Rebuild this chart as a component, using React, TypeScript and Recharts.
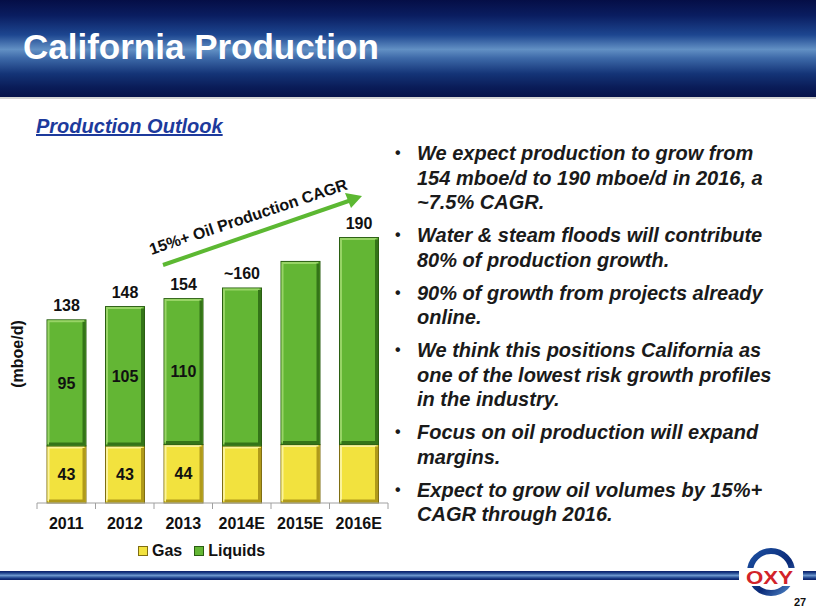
import React from 'react';
import { BarChart, Bar, XAxis, YAxis, LabelList } from 'recharts';

const years = ['2011', '2012', '2013', '2014E', '2015E', '2016E'];
const gas = [43, 43, 44, 43, 44, 44];
const liquids = [95, 105, 110, 119, 138, 156];
const gasLabels = ['43', '43', '44', '', '', ''];
const liquidLabels = ['95', '105', '110', '', '', ''];
const totalLabels = ['138', '148', '154', '~160', '', '190'];

const bullets = [
  'We expect production to grow from 154 mboe/d to 190 mboe/d in 2016, a ~7.5% CAGR.',
  'Water & steam floods will contribute 80% of production growth.',
  '90% of growth from projects already online.',
  'We think this positions California as one of the lowest risk growth profiles in the industry.',
  'Focus on oil production will expand margins.',
  'Expect to grow oil volumes by 15%+ CAGR through 2016.',
];

const data = years.map((year, i) => ({
  year,
  gas: gas[i],
  liquids: liquids[i],
  gasLabel: gasLabels[i],
  liquidLabel: liquidLabels[i],
  totalLabel: totalLabels[i],
}));

const FONT = '"Liberation Sans", Arial, sans-serif';

const CHART_W = 400;
const MARGIN = { top: 31, right: 12, bottom: 7, left: 37 };
const BAND = (CHART_W - MARGIN.left - MARGIN.right) / years.length;

const bevel = (fill: string, light: string, shadow: string, border: string) => (props: any) => {
  const { x, y, width, height } = props;
  if (!height || height <= 0) return <g />;
  return (
    <g>
      <rect x={x} y={y} width={width} height={height} fill={fill} stroke={border} strokeWidth={1} />
      <path
        d={`M${x + 1.5},${y + height - 2} L${x + 1.5},${y + 1.5} L${x + width - 2},${y + 1.5}`}
        stroke={light}
        strokeWidth={2}
        fill="none"
      />
      <path
        d={`M${x + width - 2},${y + 2} L${x + width - 2},${y + height - 2} L${x + 2},${y + height - 2}`}
        stroke={shadow}
        strokeWidth={3}
        fill="none"
      />
    </g>
  );
};

const GasShape = bevel('#f2e23e', '#fbf39a', '#b09a1a', '#7f6e12');
const LiquidShape = bevel('#63b634', '#98d466', '#347418', '#2a5e12');

const YearTick = (props: any) => {
  const { x, y, payload, index } = props;
  const left = x - BAND / 2;
  return (
    <g>
      <line x1={left} y1={y} x2={left} y2={y + 6} stroke="#a0a0a0" />
      {index === years.length - 1 && (
        <line x1={x + BAND / 2} y1={y} x2={x + BAND / 2} y2={y + 6} stroke="#a0a0a0" />
      )}
      <text x={x} y={y + 26} textAnchor="middle" fontFamily={FONT} fontWeight="bold" fontSize={16} fill="#111">
        {payload.value}
      </text>
    </g>
  );
};

const labelStyle = { fontFamily: FONT, fontWeight: 'bold', fontSize: 16, fill: '#111' } as const;

export default function App() {
  return (
    <div style={{ position: 'absolute', left: 0, top: 0, width: 816, height: 612, background: '#fff', overflow: 'hidden', fontFamily: FONT }}>
      {/* header band */}
      <div
        style={{
          position: 'absolute',
          left: 0,
          top: 0,
          width: 816,
          height: 97,
          background:
            'linear-gradient(to bottom, #050e46 0%, #0a1d60 16%, #1d4690 36%, #6290c4 51%, #3d69a8 60%, #143477 76%, #0a1c58 90%, #06124a 100%)',
        }}
      />
      <div style={{ position: 'absolute', left: 0, top: 97, width: 816, height: 2, background: '#d4d4d4' }} />
      <div
        style={{
          position: 'absolute',
          left: 23,
          top: 23,
          color: '#fff',
          fontSize: 35,
          fontWeight: 'bold',
          lineHeight: '48px',
          whiteSpace: 'nowrap',
        }}
      >
        California Production
      </div>

      <div
        style={{
          position: 'absolute',
          left: 36,
          top: 114,
          color: '#1d3a9c',
          fontSize: 20,
          fontWeight: 'bold',
          fontStyle: 'italic',
          textDecoration: 'underline',
          lineHeight: '24px',
          whiteSpace: 'nowrap',
        }}
      >
        Production Outlook
      </div>

      {/* chart */}
      <div style={{ position: 'absolute', left: 0, top: 180 }}>
        <BarChart width={CHART_W} height={360} data={data} margin={MARGIN} barSize={39}>
          <XAxis
            dataKey="year"
            height={30}
            axisLine={{ stroke: '#a0a0a0' }}
            tickLine={false}
            tickSize={0}
            tickMargin={0}
            interval={0}
            tick={<YearTick />}
          />
          <YAxis hide domain={[0, 220]} />
          <Bar dataKey="gas" stackId="a" shape={GasShape} isAnimationActive={false}>
            <LabelList dataKey="gasLabel" position="center" style={labelStyle} />
          </Bar>
          <Bar dataKey="liquids" stackId="a" shape={LiquidShape} isAnimationActive={false}>
            <LabelList dataKey="liquidLabel" position="center" style={labelStyle} />
            <LabelList dataKey="totalLabel" position="top" offset={9} style={labelStyle} />
          </Bar>
        </BarChart>
      </div>

      {/* y-axis title */}
      <div
        style={{
          position: 'absolute',
          left: 18,
          top: 354,
          transform: 'translate(-50%, -50%) rotate(-90deg)',
          fontSize: 16,
          fontWeight: 'bold',
          color: '#111',
          whiteSpace: 'nowrap',
        }}
      >
        (mboe/d)
      </div>

      {/* CAGR annotation */}
      <svg width={816} height={612} style={{ position: 'absolute', left: 0, top: 0, pointerEvents: 'none' }}>
        <line x1={163} y1={265} x2={350} y2={200.5} stroke="#5cb832" strokeWidth={4} />
        <polygon points="362,196 345,193 351,208" fill="#5cb832" />
        <text
          x={250}
          y={222}
          textAnchor="middle"
          transform="rotate(-18.5 250 222)"
          fontFamily={FONT}
          fontWeight="bold"
          fontSize={16}
          fill="#111"
        >
          15%+ Oil Production CAGR
        </text>

        {/* footer bar */}
        <defs>
          <linearGradient id="foot" x1="0" y1="0" x2="0" y2="1">
            <stop offset="0" stopColor="#0b1f66" />
            <stop offset="0.2" stopColor="#1a3d88" />
            <stop offset="0.5" stopColor="#6b95cc" />
            <stop offset="0.8" stopColor="#1a3d88" />
            <stop offset="1" stopColor="#0b1f66" />
          </linearGradient>
          <linearGradient id="ring" x1="0" y1="0" x2="1" y2="1">
            <stop offset="0" stopColor="#1c4fa0" />
            <stop offset="0.6" stopColor="#0a2a78" />
            <stop offset="1" stopColor="#4f86c8" />
          </linearGradient>
        </defs>
        <rect x={0} y={571} width={739} height={9} fill="url(#foot)" />
        <rect x={803} y={571} width={13} height={9} fill="url(#foot)" />
        <circle cx={771} cy={572} r={21} fill="none" stroke="url(#ring)" strokeWidth={6} />
        <rect x={744} y={568} width={52} height={18} fill="#fff" />
        <text x={746} y={584} fontFamily={FONT} fontWeight="bold" fontSize={18} fill="#d2232a" textLength={47} lengthAdjust="spacingAndGlyphs">
          OXY
        </text>
        <text x={794} y={606} fontFamily={FONT} fontWeight="bold" fontSize={11} fill="#111">
          27
        </text>
      </svg>

      {/* legend */}
      <div style={{ position: 'absolute', left: 138, top: 542, display: 'flex', alignItems: 'center', fontSize: 16, fontWeight: 'bold', color: '#111' }}>
        <span style={{ width: 8, height: 8, background: '#f2e23e', border: '1px solid #7f6e12', marginRight: 4 }} />
        <span style={{ marginRight: 12 }}>Gas</span>
        <span style={{ width: 8, height: 8, background: '#63b634', border: '1px solid #2a5e12', marginRight: 4 }} />
        <span>Liquids</span>
      </div>

      {/* bullets */}
      <div style={{ position: 'absolute', left: 395, top: 141, width: 400 }}>
        {bullets.map((b) => (
          <div key={b} style={{ display: 'flex', marginBottom: 8.5, color: '#1a1a1a', fontSize: 20, lineHeight: '24.5px', fontWeight: 'bold' }}>
            <span style={{ width: 22, flexShrink: 0, fontStyle: 'normal', fontSize: 16 }}>•</span>
            <span style={{ width: 372, fontStyle: 'italic' }}>{b}</span>
          </div>
        ))}
      </div>
    </div>
  );
}
